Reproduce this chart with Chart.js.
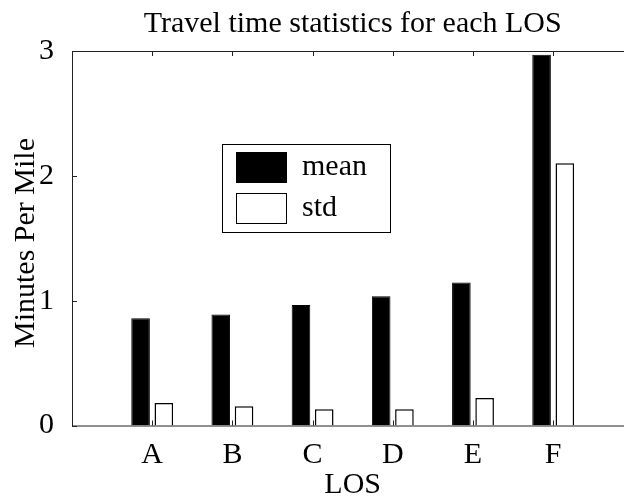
<!DOCTYPE html>
<html>
<head>
<meta charset="utf-8">
<script src="https://cdn.jsdelivr.net/npm/chart.js@4"></script>
<style>
  body { margin: 0; overflow: hidden; background: #fff; }
  #wrap { width: 710px; height: 500px; }
</style>
</head>
<body>
<div id="wrap"><canvas id="chart"></canvas></div>
<script>
// values
const categories = ["A", "B", "C", "D", "E", "F"];
const meanValues = [0.86, 0.89, 0.965, 1.035, 1.145, 2.97];
const stdValues = [0.18, 0.155, 0.13, 0.13, 0.22, 2.1];
const yTicks = [0, 1, 2, 3];

const serif = "'Liberation Serif', 'Times New Roman', serif";
const fontSize = 30;

// empty slots at both ends so the first category sits one step from the axis
const labels = ["", ...categories, ""];
const pad = (arr) => [null, ...arr, null];

// matlab style box, inward ticks, legend and y title
const matlabAxes = {
  id: "matlabAxes",
  afterDraw(chart) {
    const { ctx, chartArea: a, scales } = chart;
    const x = scales.x, y = scales.y;
    ctx.save();
    ctx.strokeStyle = "#222";
    ctx.lineWidth = 1;
    ctx.strokeRect(a.left + 0.5, a.top + 0.5, a.right - a.left, a.bottom - a.top);

    ctx.beginPath();
    labels.forEach((lab, i) => {
      if (!lab) return;
      const px = Math.round(x.getPixelForValue(i)) + 0.5;
      ctx.moveTo(px, a.top);
      ctx.lineTo(px, a.top + 5);
      ctx.moveTo(px, a.bottom);
      ctx.lineTo(px, a.bottom - 5);
    });
    yTicks.forEach((v) => {
      const py = Math.round(y.getPixelForValue(v)) + 0.5;
      ctx.moveTo(a.left, py);
      ctx.lineTo(a.left + 5, py);
    });
    ctx.stroke();

    // legend box
    ctx.fillStyle = "#fff";
    ctx.fillRect(222.5, 144.5, 168, 88);
    ctx.strokeStyle = "#000";
    ctx.strokeRect(222.5, 144.5, 168, 88);
    ctx.font = fontSize + "px " + serif;
    ctx.textBaseline = "middle";
    ctx.textAlign = "left";
    chart.data.datasets.forEach((ds, i) => {
      const top = i === 0 ? 152.5 : 193.5;
      ctx.fillStyle = ds.backgroundColor;
      ctx.fillRect(236.5, top, 50, 30);
      ctx.strokeStyle = "#000";
      ctx.strokeRect(236.5, top, 50, 30);
      ctx.fillStyle = "#000";
      ctx.fillText(ds.label, 302, top + 15);
    });

    // y axis title
    ctx.translate(34, 243);
    ctx.rotate(-Math.PI / 2);
    ctx.textAlign = "center";
    ctx.textBaseline = "alphabetic";
    ctx.fillText("Minutes Per Mile", 0, 0);
    ctx.restore();
  }
};

new Chart(document.getElementById("chart"), {
  type: "bar",
  data: {
    labels: labels,
    datasets: [
      {
        label: "mean",
        data: pad(meanValues),
        backgroundColor: "#000",
        borderColor: "#000",
        borderWidth: 1
      },
      {
        label: "std",
        data: pad(stdValues),
        backgroundColor: "#fff",
        borderColor: "#000",
        borderWidth: 1.5
      }
    ]
  },
  options: {
    responsive: true,
    maintainAspectRatio: false,
    animation: false,
    categoryPercentage: 0.58,
    barPercentage: 0.8,
    layout: { padding: { left: 0, right: 76.6, top: 0, bottom: 0 } },
    plugins: {
      legend: { display: false },
      tooltip: { enabled: false },
      title: {
        display: true,
        fullSize: false,
        text: "Travel time statistics for each LOS",
        color: "#000",
        font: { family: serif, size: fontSize, weight: "normal" },
        padding: { top: 6, bottom: 9 }
      }
    },
    scales: {
      x: {
        offset: false,
        grid: { display: false, drawTicks: false },
        border: { display: false },
        ticks: {
          color: "#000",
          font: { family: serif, size: fontSize },
          padding: 12,
          maxRotation: 0,
          autoSkip: false
        },
        title: {
          display: true,
          text: "LOS",
          color: "#000",
          font: { family: serif, size: fontSize },
          padding: { top: 0, bottom: -3 }
        },
        afterFit(scale) { scale.height = 74.5; }
      },
      y: {
        min: 0,
        max: 3,
        grid: { display: false, drawTicks: false },
        border: { display: false },
        ticks: {
          stepSize: 1,
          color: "#000",
          font: { family: serif, size: fontSize },
          padding: 18
        },
        afterFit(scale) { scale.width = 72; }
      }
    }
  },
  plugins: [matlabAxes]
});
</script>
</body>
</html>
